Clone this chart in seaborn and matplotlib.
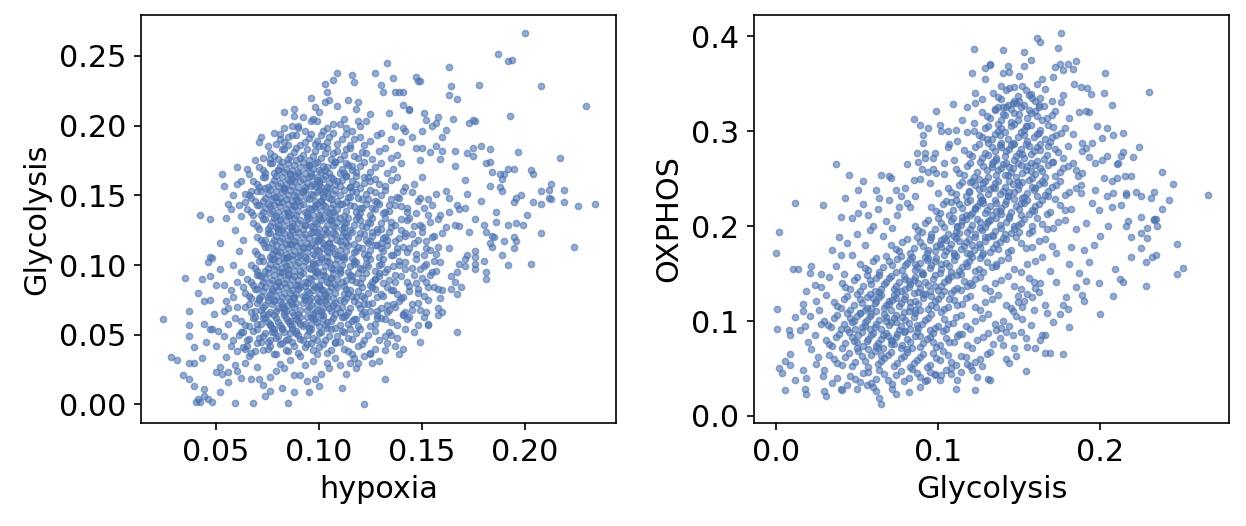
import matplotlib
matplotlib.use("Agg")
import matplotlib.pyplot as plt
import pandas as pd
import seaborn as sns
from matplotlib.ticker import MultipleLocator

# per-cell scores, in thousandths: (hypoxia, Glycolysis)
hypoxia_glycolysis = [
    # sparse points above and right of the cloud
    (109,238),(116,236),(103,230),(107,233),(117,231),(127,238),(104,224),(96,220),(98,213),(103,217),
    (105,218),(83,210),(88,207),(92,206),(109,214),(114,218),(119,217),(72,192),(71,188),(75,185),
    (79,187),(81,194),(85,192),(53,165),(54,157),(65,169),(69,175),(60,158),(42,136),(47,133),
    (56,144),(61,143),(55,134),(64,151),(67,153),(73,177),(76,176),
    (200,266),(187,251),(192,246),(194,247),(133,245),(163,242),(136,234),(147,235),(148,232),(149,232),
    (164,228),(163,222),(167,219),(178,229),(208,228),(230,214),(193,207),(130,229),(131,224),(137,224),
    (139,224),(141,224),(141,215),(144,212),(144,211),(151,209),(152,204),(155,200),(157,202),(158,206),
    (162,197),(160,192),(165,205),(173,202),(175,204),(176,203),(134,209),(137,200),(141,198),(142,196),
    (147,184),(150,184),(157,185),(160,182),(166,182),(172,180),(175,184),(179,185),(183,183),(175,178),
    (197,181),(217,177),(181,173),(183,174),(184,167),(192,169),(195,169),(190,165),(188,165),(189,162),
    (188,156),(189,153),(203,168),(204,165),(213,158),(212,154),(208,153),(219,154),(204,145),(208,144),
    (212,148),(213,147),(219,145),(226,142),(234,144),(198,150),(196,148),(195,145),(201,136),
    (224,113),(208,123),(203,101),(199,129),(196,130),(192,129),(195,120),(196,117),(195,112),(190,117),
    (189,107),(192,100),(186,131),(184,121),(185,120),(183,116),(184,113),(181,124),(180,103),(181,95),
    (181,90),(176,110),(176,106),(176,97),(176,101),(172,107),(171,99),(168,101),(167,95),(166,88),
    (169,84),(167,79),(164,83),(160,82),(158,83),(167,52),(160,66),(158,69),(158,64),(153,57),
    (153,58),(151,63),(149,45),(148,57),(142,54),(139,36),(137,42),(132,39),(132,18),(135,50),
    # sparse points lower left and bottom
    (24,61),(35,91),(37,67),(37,57),(37,49),(39,41),(28,34),(31,32),(37,30),(39,30),
    (43,33),(34,21),(37,18),(39,13),(40,2),(42,2),(41,4),(44,6),(46,4),(48,2),
    (44,11),(52,9),(59,1),(68,1),(85,1),(122,0),(111,12),(74,6),(76,10),(95,9),
    (56,16),(50,23),(52,27),(56,23),(62,19),(67,18),(71,18),(76,20),(81,29),(83,26),
    (88,21),(91,21),(94,17),(98,18),(101,22),(105,26),(110,28),(115,30),(119,30),(125,36),
    (126,30),(52,116),(47,106),(48,105),(46,102),(52,97),(43,90),(47,92),(50,86),(54,86),
    (41,80),(44,74),(47,75),(55,74),(58,77),(56,69),(60,70),(54,67),(49,65),(44,58),
    (47,54),(48,54),(51,53),(45,45),(50,42),(54,49),(57,42),(60,38),(55,34),(59,28),(53,22),
    (64,30),(70,27),(79,24),(86,32),(93,28),(97,31),(104,30),(108,33),(113,22),(118,26),
    (73,14),(82,12),(88,9),(100,13),(60,24),
    # fringe of the cloud
    (168,140),(172,151),(176,133),(179,146),(183,157),(171,161),(166,171),(159,176),(154,181),(149,175),
    (163,148),(186,138),(180,129),(173,124),(168,128),(163,112),(171,104),(157,96),(164,92),(153,84),
    (159,76),(148,73),(152,66),(143,61),(146,52),(138,48),(133,44),(127,40),(122,35),(129,31),
    (117,33),(141,40),
    (90,200),(97,205),(112,205),(120,200),(125,208),(130,195),(135,190),(140,188),(145,192),(150,196),
    (83,198),(78,195),(88,212),(100,210),(118,212),
    (58,150),(62,160),(66,165),(60,170),(64,145),(57,140),(62,135),(59,125),(63,118),(61,110),
    (58,100),(62,95),(60,88),(57,82),(63,84),(59,62),(56,58),(62,52),(58,46),(64,40),(66,35),
    # dense core
    (63,41),(67,37),(70,44),(73,39),(76,42),(79,36),(82,44),(85,38),(88,42),(91,35),
    (94,43),(97,39),(100,41),(104,37),(108,44),(112,40),(116,36),(121,43),
    (65,42),(69,38),(72,45),(75,40),(78,36),(81,43),(84,39),(87,45),(90,37),(93,41),
    (96,44),(99,36),(102,43),(106,39),(110,45),(114,38),(119,42),(125,37),
    (61,50),(65,46),(68,53),(71,48),(74,51),(76,46),(78,54),(80,49),(83,52),(85,47),
    (87,54),(90,50),(92,46),(95,53),(97,48),(100,51),(103,46),(106,54),(109,49),(112,52),
    (116,47),(120,54),(124,50),(129,46),(134,52),
    (63,52),(66,47),(70,54),(73,49),(75,45),(77,52),(79,48),(82,54),(84,46),(86,51),
    (89,53),(91,47),(94,50),(96,54),(99,46),(101,52),(105,49),(108,45),(111,53),(114,48),
    (118,51),(122,46),(127,53),(132,49),
    (62,60),(66,56),(69,63),(72,58),(74,62),(76,57),(78,64),(80,59),(82,55),(84,62),
    (86,58),(88,64),(90,60),(92,56),(94,63),(96,58),(98,61),(100,56),(102,64),(104,59),
    (107,62),(110,57),(113,64),(116,60),(119,56),(123,63),(127,58),(132,61),(138,57),(144,63),
    (64,57),(68,62),(70,58),(73,65),(75,59),(77,55),(79,62),(81,57),(83,64),(85,60),
    (87,56),(89,61),(91,63),(93,58),(95,55),(97,62),(99,59),(101,64),(103,57),(106,60),
    (108,55),(111,63),(114,58),(118,61),(121,65),(125,56),(130,62),(135,59),(141,64),
    (64,70),(67,66),(70,73),(72,68),(74,71),(76,66),(78,74),(80,69),(82,72),(84,67),
    (86,74),(88,70),(90,65),(92,73),(94,68),(96,71),(98,66),(100,74),(102,69),(104,72),
    (106,67),(108,73),(111,70),(114,66),(117,74),(120,69),(124,72),(128,67),(133,71),(139,74),(145,68),
    (66,72),(69,67),(71,75),(73,70),(75,65),(77,72),(79,67),(81,74),(83,69),(85,71),
    (87,66),(89,73),(91,68),(93,75),(95,70),(97,65),(99,72),(101,67),(103,74),(105,69),
    (107,71),(110,66),(112,74),(115,69),(119,72),(122,66),(126,73),(130,69),(136,72),(142,66),
    (64,80),(67,76),(70,83),(72,78),(74,84),(76,79),(78,75),(80,82),(82,77),(84,84),
    (86,80),(88,76),(90,83),(92,78),(94,81),(96,76),(98,84),(100,79),(102,82),(104,77),
    (106,84),(108,80),(110,75),(113,83),(116,78),(119,81),(122,76),(126,84),(130,79),(135,82),
    (141,77),(148,83),
    (66,78),(69,83),(71,76),(73,81),(75,77),(77,83),(79,78),(81,85),(83,80),(85,76),
    (87,82),(89,79),(91,84),(93,77),(95,80),(97,82),(99,76),(101,83),(103,78),(105,81),
    (107,76),(109,84),(112,79),(115,82),(118,77),(121,84),(124,80),(128,77),(133,84),(138,79),
    (144,81),(151,78),
    (65,90),(68,86),(71,93),(73,88),(75,94),(77,89),(79,85),(81,92),(83,87),(85,94),
    (87,90),(89,86),(91,93),(93,88),(95,91),(97,86),(99,94),(101,89),(103,92),(105,87),
    (107,94),(109,90),(112,85),(115,93),(118,88),(121,91),(125,86),(129,94),(134,89),(140,92),
    (147,87),(154,93),
    (67,88),(70,93),(72,86),(74,91),(76,87),(78,93),(80,88),(82,95),(84,90),(86,86),
    (88,92),(90,89),(92,94),(94,87),(96,90),(98,92),(100,86),(102,93),(104,88),(106,91),
    (108,86),(110,94),(113,89),(116,92),(120,87),(123,94),(127,90),(131,87),(137,93),(143,88),
    (150,91),
    (67,100),(70,96),(73,103),(75,98),(77,104),(79,99),(81,95),(83,102),(85,97),(87,104),
    (89,100),(91,96),(93,103),(95,98),(97,101),(99,96),(101,104),(103,99),(105,102),(107,97),
    (109,104),(111,100),(114,95),(117,103),(120,98),(123,101),(127,96),(131,104),(136,99),(142,102),
    (149,97),(156,103),
    (69,98),(71,103),(74,96),(76,101),(78,97),(80,103),(82,98),(84,105),(86,100),(88,96),
    (90,102),(92,99),(94,104),(96,97),(98,100),(100,102),(102,96),(104,103),(106,98),(108,101),
    (110,96),(112,104),(115,99),(118,102),(121,97),(125,104),(129,100),(133,97),(139,103),(145,98),
    (152,101),
    (69,110),(72,106),(75,113),(77,108),(79,114),(81,109),(83,105),(85,112),(87,107),(89,114),
    (91,110),(93,106),(95,113),(97,108),(99,111),(101,106),(103,114),(105,109),(107,112),(109,107),
    (111,114),(113,110),(116,105),(119,113),(122,108),(125,111),(129,106),(133,114),(138,109),(144,112),
    (151,107),(158,113),
    (70,108),(74,113),(76,106),(78,111),(80,107),(82,113),(84,108),(86,115),(88,110),(90,106),
    (92,112),(94,109),(96,114),(98,107),(100,110),(102,112),(104,106),(106,113),(108,108),(110,111),
    (112,106),(114,114),(117,109),(121,112),(124,107),(127,114),(131,110),(136,107),(141,113),(147,108),
    (154,111),
    (70,120),(73,116),(76,123),(78,118),(80,124),(82,119),(84,115),(86,122),(88,117),(90,124),
    (92,120),(94,116),(96,123),(98,118),(100,121),(102,116),(104,124),(106,119),(108,122),(110,117),
    (112,124),(114,120),(117,115),(120,123),(123,118),(126,121),(130,116),(134,124),(139,119),(145,122),
    (152,117),(160,123),
    (72,118),(75,123),(77,116),(79,121),(81,117),(83,123),(85,118),(87,125),(89,120),(91,116),
    (93,122),(95,119),(97,124),(99,117),(101,120),(103,122),(105,116),(107,123),(109,118),(111,121),
    (113,116),(116,124),(119,119),(122,122),(125,117),(128,124),(132,120),(137,117),(142,123),(148,118),
    (156,121),
    (68,130),(71,126),(74,133),(76,128),(78,134),(80,129),(82,125),(84,132),(86,127),(88,134),
    (90,130),(92,126),(94,133),(96,128),(98,131),(100,126),(102,134),(104,129),(106,132),(108,127),
    (110,134),(112,130),(115,125),(118,133),(121,128),(124,131),(128,126),(132,134),(137,129),(143,132),
    (150,127),(158,133),(166,129),
    (70,128),(73,133),(75,126),(77,131),(79,127),(81,133),(83,128),(85,135),(87,130),(89,126),
    (91,132),(93,129),(95,134),(97,127),(99,130),(101,132),(103,126),(105,133),(107,128),(109,131),
    (111,126),(114,134),(117,129),(120,132),(123,127),(126,134),(130,130),(135,127),(140,133),(146,128),
    (154,131),(162,127),
    (65,140),(68,136),(71,143),(73,138),(75,144),(77,139),(79,135),(81,142),(83,137),(85,144),
    (87,140),(89,136),(91,143),(93,138),(95,141),(97,136),(99,144),(101,139),(103,142),(105,137),
    (107,144),(109,140),(112,135),(115,143),(118,138),(121,141),(125,136),(129,144),(134,139),(140,142),
    (147,137),(155,143),(163,138),(171,141),
    (67,138),(70,143),(72,136),(74,141),(76,137),(78,143),(80,138),(82,145),(84,140),(86,136),
    (88,142),(90,139),(92,144),(94,137),(96,140),(98,142),(100,136),(102,143),(104,138),(106,141),
    (108,136),(110,144),(113,139),(117,142),(120,137),(123,144),(127,140),(131,137),(137,143),(143,138),
    (151,141),(159,136),(167,143),
    (66,150),(69,146),(72,153),(74,148),(76,154),(78,149),(80,145),(82,152),(84,147),(86,154),
    (88,150),(90,146),(92,153),(94,148),(96,151),(98,146),(100,154),(102,149),(104,152),(106,147),
    (108,154),(110,150),(113,145),(116,153),(119,148),(123,151),(127,146),(132,154),(138,149),(145,152),
    (153,147),(162,153),
    (67,148),(70,153),(73,146),(75,151),(77,147),(79,153),(81,148),(83,155),(85,150),(87,146),
    (89,152),(91,149),(93,154),(95,147),(97,150),(99,152),(101,146),(103,153),(105,148),(107,151),
    (109,146),(112,154),(115,149),(118,152),(121,147),(125,154),(130,150),(135,147),(141,153),(149,148),
    (157,151),
    (68,160),(71,156),(74,163),(77,158),(79,164),(81,159),(83,155),(85,162),(87,157),(89,164),
    (91,160),(93,156),(95,163),(97,158),(99,161),(101,156),(103,164),(105,159),(107,162),(110,157),
    (113,164),(116,160),(120,155),(124,163),(129,158),(135,161),(142,156),(150,163),
    (70,158),(73,163),(75,156),(78,161),(80,157),(82,163),(84,158),(86,165),(88,160),(90,156),
    (92,162),(94,159),(96,164),(98,157),(100,160),(102,162),(104,156),(106,163),(108,158),(111,161),
    (115,156),(118,164),(122,159),(127,162),(132,157),(138,163),(146,158),
    (71,170),(74,166),(77,173),(80,168),(82,174),(84,169),(86,165),(88,172),(90,167),(92,174),
    (94,170),(96,166),(98,173),(100,168),(102,171),(105,166),(108,174),(111,169),(114,172),(118,167),
    (122,174),(127,170),(133,166),(140,173),
    (73,168),(76,173),(78,166),(81,171),(83,167),(85,173),(87,168),(89,175),(91,170),(93,166),
    (95,172),(97,169),(99,174),(101,167),(104,170),(107,172),(110,166),(113,173),(116,168),(120,171),
    (125,167),(130,173),(136,169),
    (76,180),(80,176),(83,183),(86,178),(89,184),(92,179),(95,175),(98,182),(101,177),(104,184),
    (107,180),(110,176),(113,183),(117,178),(121,181),(126,176),(132,184),(138,179),
    (78,178),(82,183),(85,176),(88,181),(91,177),(94,183),(97,178),(100,185),(103,180),(106,176),
    (109,182),(112,179),(115,184),(119,177),(123,180),(129,182),(135,177),
    (81,190),(85,186),(89,193),(93,188),(96,194),(99,189),(102,185),(105,192),(109,187),(113,194),
    (117,190),(122,186),(128,193),
    (83,188),(87,193),(91,186),(95,191),(98,187),(101,193),(104,188),(107,195),(111,190),(115,186),
    (120,192),(125,189),
    (87,200),(93,196),(99,203),(104,198),(110,201),(116,196),(123,203),
    (90,198),(96,203),(102,196),(107,201),(113,198),(119,203),
    # darkest part of the core
    (78,52),(91,58),(104,55),(117,61),(83,66),(96,63),(109,69),(122,72),(88,77),(101,74),
    (114,80),(127,83),(80,88),(93,85),(106,91),(119,94),(84,99),(97,102),(110,97),(123,105),
    (79,110),(92,113),(105,116),(118,110),(131,119),(86,121),(99,124),(112,127),(125,130),(81,132),
    (94,135),(107,138),(120,141),(88,143),(101,146),(114,149),(127,152),(83,154),(96,157),(109,160),
    (122,163),(90,165),(103,168),(116,171),
    (76,58),(89,51),(102,61),(115,54),(128,64),(82,70),(95,75),(108,65),(121,78),(134,68),
    (77,81),(90,86),(103,79),(116,89),(129,92),(85,93),(98,96),(111,88),(124,99),(78,104),
    (91,107),(104,110),(117,101),(130,112),(87,115),(100,118),(113,121),(126,124),(80,126),(93,129),
    (106,132),(119,135),(132,138),(85,138),(98,141),(111,144),(124,147),(79,149),(92,152),(105,155),
    (118,158),(86,160),(99,163),(112,166),(125,160),(95,171),(108,174),
    (73,62),(86,60),(99,68),(112,63),(125,67),(75,75),(87,72),(100,84),(113,76),(126,88),
    (72,92),(85,106),(98,113),(111,106),(124,116),(74,118),(87,128),(100,134),(113,130),(126,141),
    (76,142),(89,147),(102,151),(115,156),(128,145),(74,155),(87,162),(100,158),(113,164),(80,168),
    (128,62),(133,66),(137,70),(141,65),(145,72),(149,68),(153,75),(131,78),(136,82),(140,76),
    (144,85),(148,80),(152,88),(156,84),(127,90),(132,95),(137,88),(142,97),(146,93),(151,99),
    (155,95),(159,102),(130,101),(135,107),(139,100),(143,109),(147,104),(152,112),(157,108),(128,114),
    (133,118),(138,112),(142,121),(146,116),(150,124),(155,120),(130,126),(135,131),(140,125),(144,134),
    (149,129),(153,136),(134,143),(139,148),(143,141),(148,146),
]

# per-cell scores, in thousandths: (Glycolysis, OXPHOS)
glycolysis_oxphos = [
    # sparse points upper left
    (122,387),(121,361),(129,367),(132,370),(129,355),(109,329),(99,321),(85,313),(89,307),(94,303),
    (91,296),(91,288),(101,307),(102,300),(118,325),(123,330),(127,334),(123,340),(115,312),(122,309),
    (111,301),(118,299),(37,265),(45,254),(54,247),(51,238),(65,254),(70,253),(71,251),(81,265),
    (87,277),(88,268),(92,277),(98,277),(92,272),(97,272),(94,257),(99,256),(104,267),(106,283),
    (107,287),(97,260),(12,224),(29,222),(43,230),(40,210),(47,208),(51,214),(54,223),(64,230),
    (70,228),(74,238),(77,232),(81,224),(85,249),(89,250),(76,220),
    # sparse points upper right
    (176,403),(161,398),(163,394),(174,388),(140,386),(153,384),(157,375),(153,369),(143,369),(132,371),
    (172,368),(175,371),(177,365),(180,371),(183,366),(185,374),(203,361),(140,361),(144,362),(230,341),
    (207,328),(202,340),(194,339),(192,346),(188,347),(184,350),(191,321),(193,320),(187,320),(198,306),
    (204,303),(208,296),(214,298),(201,293),(195,288),(224,283),(220,273),(214,278),(213,274),(210,265),
    (211,267),(204,274),(201,270),(197,267),(191,282),(189,279),(238,257),(245,244),(266,233),(242,228),
    (238,218),(233,236),(231,230),(225,232),(222,236),(216,235),(215,253),(219,253),(210,251),(207,247),
    (208,235),(213,222),(216,233),(225,210),(233,207),(234,207),(217,205),
    # sparse points lower left
    (2,194),(0,172),(11,155),(14,155),(22,158),(21,151),(1,113),(1,92),(12,104),(19,132),
    (17,118),(17,110),(25,121),(24,138),(28,136),(8,91),(9,85),(15,90),(9,65),(6,58),
    (9,54),(2,50),(4,45),(12,38),(6,27),(17,48),(19,40),(18,28),(19,23),(30,26),
    (31,21),(40,28),(41,27),(35,35),(29,42),(64,19),(65,12),(60,30),(72,28),(74,23),
    (82,25),(89,30),(93,38),(111,28),(123,27),(98,44),(102,43),(124,41),(131,39),(132,67),
    (130,65),(127,53),(108,50),(114,46),(118,55),(121,48),(112,38),
    # sparse points lower right
    (251,156),(247,150),(247,181),(228,137),(228,162),(225,177),(232,167),(234,170),(235,200),(233,206),
    (229,187),(225,193),(229,198),(219,188),(219,167),(216,200),(208,126),(200,107),(214,141),(212,144),
    (209,155),(199,140),(191,142),(189,127),(190,121),(181,94),(180,113),(177,117),(175,107),(166,85),
    (164,85),(166,66),(169,66),(177,65),(154,47),(160,71),(155,73),(157,96),(152,102),(147,71),
    (144,56),(142,60),(132,38),
    # fringe of the cloud
    (22,70),(26,62),(24,85),(28,97),(21,105),(27,112),(31,127),(33,146),(37,158),(40,170),
    (44,182),(28,150),(35,175),(25,55),(30,48),(38,40),(44,33),(50,28),(56,32),(62,26),
    (20,78),(33,64),(18,95),(42,150),(47,170),(39,188),(50,192),(55,180),(60,200),(66,190),
    (57,212),(63,218),(68,205),(75,212),(80,240),(86,232),(62,238),(90,260),(95,245),(100,235),
    (104,255),(110,270),(112,290),(106,300),(83,220),(72,198),(58,196),
    (151,88),(159,112),(166,117),(162,131),(173,141),(169,153),(179,125),(185,136),(171,99),(163,80),
    (148,63),(140,75),(154,82),(187,151),(193,162),(181,160),(167,108),(146,111),
    (136,90),(140,100),(144,95),(148,105),(138,82),(142,88),(134,76),(146,85),(152,115),(158,125),
    (163,140),(160,135),(155,128),(149,120),
    (185,197),(191,203),(199,217),(195,224),(188,235),(197,238),(202,251),(185,259),(193,273),(189,288),
    (183,297),(181,314),(176,331),(177,338),(171,357),(164,355),(161,350),(150,358),(147,347),(139,348),
    (204,232),(207,220),(200,190),(196,180),(205,200),(190,175),(182,178),
    (150,332),(156,338),(162,328),(170,332),(146,330),(140,325),(135,322),
    # dense band
    (46,42),(52,36),(57,46),(62,39),(67,44),(72,34),(77,47),(82,40),(87,45),(92,37),(98,43),(105,48),
    (49,39),(54,45),(59,35),(64,48),(69,38),(74,43),(79,37),(84,49),(89,41),(95,46),(101,38),(108,44),
    (36,60),(41,54),(45,66),(49,57),(53,63),(57,52),(61,68),(65,58),(69,64),(73,53),
    (77,61),(81,67),(85,56),(89,62),(93,51),(97,66),(101,59),(106,64),(111,54),(117,62),(123,57),
    (38,56),(43,62),(47,53),(51,68),(55,58),(59,64),(63,55),(67,61),(71,67),(75,56),
    (79,63),(83,52),(87,59),(91,65),(95,54),(99,61),(103,68),(108,57),(114,63),(120,53),(126,60),
    (31,80),(35,74),(39,86),(43,77),(47,83),(50,72),(53,88),(56,79),(59,85),(62,74),
    (65,81),(68,87),(71,76),(74,83),(77,71),(80,89),(83,78),(86,84),(89,73),(93,81),
    (97,87),(101,75),(105,82),(110,78),(115,86),(121,72),(128,83),
    (33,76),(37,83),(41,72),(45,88),(48,79),(51,85),(54,74),(57,81),(60,87),(63,77),
    (66,72),(69,84),(72,79),(75,86),(78,75),(81,81),(84,72),(87,88),(91,77),(95,83),
    (99,73),(103,89),(107,78),(112,84),(118,75),(124,80),(131,87),
    (30,100),(34,94),(38,106),(42,97),(46,103),(49,92),(52,108),(55,99),(58,105),(61,94),
    (64,101),(67,107),(70,96),(73,103),(76,91),(79,109),(82,98),(85,104),(88,93),(92,101),
    (96,107),(100,95),(104,102),(109,98),(114,106),(120,92),(127,103),(135,97),
    (32,96),(36,103),(40,92),(44,108),(47,99),(50,105),(53,94),(56,101),(59,107),(62,97),
    (65,92),(68,104),(71,99),(74,106),(77,95),(80,101),(83,92),(86,108),(90,97),(94,103),
    (98,93),(102,109),(106,97),(111,104),(117,95),(123,100),(131,107),(139,93),
    (36,120),(40,114),(44,126),(48,117),(52,123),(55,112),(58,128),(61,119),(64,125),(67,114),
    (70,121),(73,127),(76,116),(79,123),(82,111),(85,129),(88,118),(91,124),(94,113),(98,121),
    (102,127),(106,115),(110,122),(115,118),(120,126),(126,112),(133,123),(142,117),(149,126),
    (38,116),(42,123),(46,112),(50,128),(53,119),(56,125),(59,114),(62,121),(65,127),(68,117),
    (71,112),(74,124),(77,119),(80,126),(83,115),(86,121),(89,112),(92,128),(96,117),(100,123),
    (104,113),(108,129),(112,117),(117,124),(123,115),(129,120),(137,127),(145,114),(153,121),
    (41,140),(46,134),(50,146),(54,137),(58,143),(61,132),(64,148),(67,139),(70,145),(73,134),
    (76,141),(79,147),(82,136),(85,143),(88,131),(91,149),(94,138),(97,144),(100,133),(104,141),
    (108,147),(112,135),(116,142),(121,138),(126,146),(132,132),(139,143),(147,137),(156,145),
    (43,136),(48,143),(52,132),(56,148),(59,139),(62,145),(65,134),(68,141),(71,147),(74,137),
    (77,132),(80,144),(83,139),(86,146),(89,135),(92,141),(95,132),(98,148),(102,137),(106,143),
    (110,133),(114,149),(118,137),(123,144),(129,135),(135,140),(143,147),(151,134),(159,141),
    (52,160),(57,154),(62,166),(66,157),(70,163),(74,152),(77,168),(80,159),(83,165),(86,154),
    (89,161),(92,167),(95,156),(98,163),(101,151),(104,169),(107,158),(110,164),(113,153),(117,161),
    (121,167),(125,155),(130,162),(136,158),(143,166),(151,152),(160,163),
    (55,156),(60,163),(64,152),(68,168),(72,159),(75,165),(78,154),(81,161),(84,167),(87,157),
    (90,152),(93,164),(96,159),(99,166),(102,155),(105,161),(108,152),(111,168),(115,157),(119,163),
    (123,153),(127,169),(133,157),(139,164),(147,155),(155,160),(164,167),
    (71,180),(76,174),(81,186),(85,177),(89,183),(93,172),(96,188),(99,179),(102,185),(105,174),
    (108,181),(111,187),(114,176),(117,183),(120,171),(123,189),(126,178),(129,184),(132,173),(136,181),
    (140,187),(145,175),(151,182),(158,178),(166,186),(173,172),
    (74,176),(78,183),(83,172),(87,188),(91,179),(95,185),(98,174),(101,181),(104,187),(107,177),
    (110,172),(113,184),(116,179),(119,186),(122,175),(125,181),(128,172),(131,188),(134,177),(138,183),
    (143,173),(148,189),(154,177),(162,184),(170,179),
    (86,200),(90,194),(94,206),(98,197),(102,203),(106,192),(109,208),(112,199),(115,205),(118,194),
    (121,201),(124,207),(127,196),(130,203),(133,191),(136,209),(139,198),(142,204),(145,193),(149,201),
    (153,207),(158,195),(164,202),(171,198),(178,206),
    (88,196),(92,203),(96,192),(100,208),(104,199),(108,205),(111,194),(114,201),(117,207),(120,197),
    (123,192),(126,204),(129,199),(132,206),(135,195),(138,201),(141,192),(144,208),(147,197),(151,203),
    (156,193),(161,209),(167,197),(174,204),
    (96,220),(101,214),(105,226),(109,217),(113,223),(117,212),(120,228),(123,219),(126,225),(129,214),
    (132,221),(135,227),(138,216),(141,223),(144,211),(147,229),(150,218),(153,224),(156,213),(160,221),
    (164,227),(169,215),(175,222),(182,218),
    (99,216),(103,223),(107,212),(111,228),(115,219),(118,225),(121,214),(124,221),(127,227),(130,217),
    (133,212),(136,224),(139,219),(142,226),(145,215),(148,221),(151,212),(155,228),(158,217),(162,223),
    (167,213),(172,229),(178,217),
    (106,240),(111,234),(115,246),(119,237),(123,243),(126,232),(129,248),(132,239),(135,245),(138,234),
    (141,241),(144,247),(147,236),(150,243),(153,231),(156,249),(159,238),(162,244),(166,233),(170,241),
    (175,247),(181,236),(188,243),
    (108,236),(113,243),(117,232),(121,248),(125,239),(128,245),(131,234),(134,241),(137,247),(140,237),
    (143,232),(146,244),(149,239),(152,246),(155,235),(158,241),(161,232),(164,248),(168,237),(173,243),
    (178,233),(185,240),
    (111,260),(116,254),(120,266),(124,257),(128,263),(131,252),(134,268),(137,259),(140,265),(143,254),
    (146,261),(149,267),(152,256),(155,263),(158,251),(161,269),(164,258),(168,264),(172,253),(177,261),
    (183,267),(189,256),
    (113,256),(118,263),(122,252),(126,268),(130,259),(133,265),(136,254),(139,261),(142,267),(145,257),
    (148,252),(151,264),(154,259),(157,266),(160,255),(163,261),(166,252),(170,268),(175,257),(180,263),
    (186,253),
    (116,280),(121,274),(125,286),(129,277),(133,283),(136,272),(139,288),(142,279),(145,285),(148,274),
    (151,281),(154,287),(157,276),(161,283),(165,271),(169,289),(174,278),(180,284),
    (119,276),(123,283),(127,272),(131,288),(135,279),(138,285),(141,274),(144,281),(147,287),(150,277),
    (153,272),(156,284),(159,279),(163,286),(167,275),(172,281),(177,272),
    (122,300),(127,294),(131,306),(135,297),(139,303),(143,292),(147,308),(151,299),(155,305),(159,294),
    (163,301),(168,307),(173,296),(178,303),
    (125,296),(129,303),(133,292),(137,308),(141,299),(145,305),(149,294),(153,301),(157,307),(161,297),
    (166,292),(171,304),(176,298),
    (127,320),(132,314),(137,326),(141,317),(145,323),(149,312),(153,328),(157,319),(162,325),(167,314),
    (172,321),
    (130,316),(135,323),(139,312),(143,328),(147,319),(151,325),(155,314),(160,321),(165,327),(170,317),
    (134,340),(139,334),(144,346),(149,337),(154,343),(160,332),(166,345),
    (137,336),(142,343),(147,332),(152,348),(157,339),(163,335),
    # darkest part of the band
    (50,78),(58,92),(66,85),(74,99),(62,110),(70,118),(78,104),(86,112),(55,95),(63,72),
    (71,80),(79,88),(87,96),(95,90),(83,120),(91,128),(99,115),(107,123),(75,130),(82,142),
    (90,150),(98,137),(106,145),(114,133),(68,100),(60,124),(52,108),(44,92),(102,160),(110,170),
    (118,158),(126,166),(94,175),(105,185),(113,193),(121,180),(129,188),(137,176),(115,210),(123,218),
    (131,205),(139,213),(147,200),(108,225),(119,236),(127,228),(135,240),(143,232),(151,224),(159,216),
    (125,250),(133,262),(141,254),(149,246),(157,258),(165,245),(131,275),(139,283),(147,270),(155,290),
    (163,280),(171,268),(137,300),(145,310),(153,296),(161,316),(142,325),(150,318),(158,335),
    (57,70),(65,64),(73,76),(81,70),(89,84),(97,78),(105,92),(113,86),(48,100),(56,114),
    (64,130),(72,122),(80,134),(88,140),(96,126),(104,132),(112,148),(120,140),(128,152),(136,160),
    (86,160),(94,166),(102,178),(110,190),(118,172),(126,198),(134,190),(142,186),(150,194),(158,200),
    (112,200),(120,212),(128,224),(136,216),(144,236),(152,230),(160,240),(168,232),(120,246),(128,240),
    (136,270),(144,262),(152,276),(160,264),(168,284),(130,292),(138,296),(146,288),(154,306),(162,298),
    (170,294),(140,318),(148,330),(156,322),(164,312),
]

POINT_COLOR = "#4c72b0"

plt.rcParams["font.size"] = 14.5


def padded(values):
    lo, hi = values.min(), values.max()
    pad = (hi - lo) * 0.05
    return lo - pad, hi + pad


def draw_panel(ax, df, xcol, ycol, xstep, ystep):
    sns.scatterplot(data=df, x=xcol, y=ycol, s=9, color=POINT_COLOR, alpha=0.58,
                    edgecolor="face", linewidth=0.7, ax=ax)
    ax.set_xlim(padded(df[xcol]))
    ax.set_ylim(padded(df[ycol]))
    ax.xaxis.set_major_locator(MultipleLocator(xstep))
    ax.yaxis.set_major_locator(MultipleLocator(ystep))
    ax.set_xlabel(xcol)
    ax.set_ylabel(ycol)


left = pd.DataFrame(hypoxia_glycolysis, columns=["hypoxia", "Glycolysis"]) / 1000
right = pd.DataFrame(glycolysis_oxphos, columns=["Glycolysis", "OXPHOS"]) / 1000

fig, (ax1, ax2) = plt.subplots(1, 2, figsize=(8.307, 3.507), dpi=150)
fig.subplots_adjust(left=0.1132, right=0.9864, bottom=0.1958, top=0.9715, wspace=0.29)

draw_panel(ax1, left, "hypoxia", "Glycolysis", 0.05, 0.05)
draw_panel(ax2, right, "Glycolysis", "OXPHOS", 0.1, 0.1)

fig.savefig("out.png", dpi=150)
